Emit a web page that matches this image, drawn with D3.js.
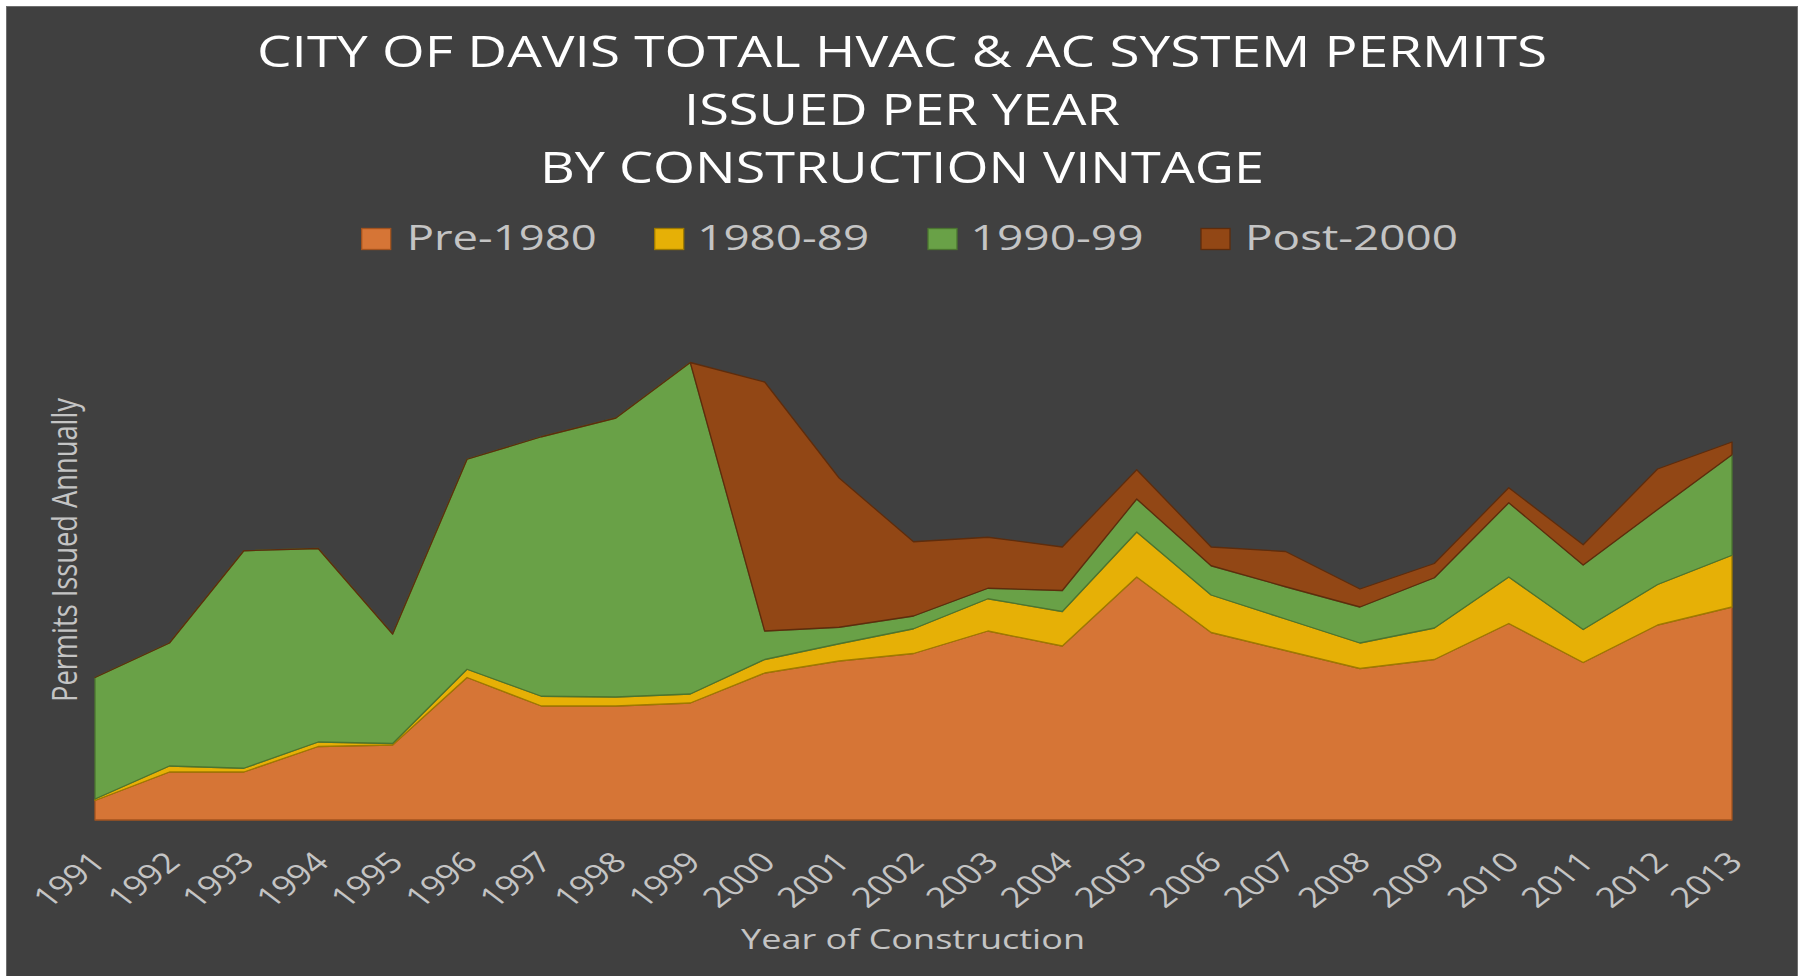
<!DOCTYPE html>
<html>
<head>
<meta charset="utf-8">
<script src="https://cdn.jsdelivr.net/npm/d3@7"></script>
<style>
  html, body { margin: 0; padding: 0; background: #ffffff; }
  svg { display: block; }
</style>
</head>
<body>
<svg id="chart" width="1801" height="976"></svg>
<script>
// ---- data (arbitrary units, no y scale shown) ----
const years = [1991,1992,1993,1994,1995,1996,1997,1998,1999,2000,2001,2002,2003,2004,2005,2006,2007,2008,2009,2010,2011,2012,2013];
const pre1980  = [13, 32, 32, 49, 50, 95, 76, 76, 78, 98, 106, 111, 126, 116, 162, 125, 113, 101, 107, 131, 105, 130, 142];
const y1980s   = [1, 4, 2.5, 3, 1, 5.5, 6.5, 6, 6, 9, 11.5, 16.5, 21.5, 23, 30, 25, 21, 17, 21, 31, 22, 27, 34.5];
const y1990s   = [81, 82, 145, 129, 73, 140, 173, 186, 221, 19, 11, 8.5, 7, 14, 22, 19.5, 21.5, 24, 33.5, 49.5, 43, 50, 67];
const post2000 = [0, 0, 0, 0, 0, 0, 0, 0, 0, 166, 99.5, 49.5, 34, 29, 19.5, 12.5, 23.5, 12, 9.5, 10, 13.5, 27, 8.5];
const seriesNames = ["Pre-1980", "1980-89", "1990-99", "Post-2000"];
const titleLines = ["CITY OF DAVIS TOTAL HVAC & AC SYSTEM PERMITS", "ISSUED PER YEAR", "BY CONSTRUCTION VINTAGE"];
const xTitle = "Year of Construction";
const yTitle = "Permits Issued Annually";

// ---- styles ----
const fills   = ["#D67536", "#E6B006", "#69A147", "#924715"];
const strokes = ["#A3531F", "#9E7A00", "#4B7530", "#5E2C0C"];
const FONT = "'Open Sans', 'DejaVu Sans', sans-serif";
const SX = 1.3; // horizontal stretch seen in the reference text

const svg = d3.select("#chart");

// frame
svg.append("rect").attr("x", 6.5).attr("y", 6.5).attr("width", 1791).attr("height", 975)
  .attr("fill", "#404040").attr("stroke", "#6e6e6e").attr("stroke-width", 1);

// table for stack
const keys = ["pre", "e80", "e90", "p00"];
const table = years.map((yr, i) => ({ year: yr, pre: pre1980[i], e80: y1980s[i], e90: y1990s[i], p00: post2000[i] }));
const stacked = d3.stack().keys(keys)(table);

const x = d3.scalePoint().domain(years).range([95, 1732]);
const y = d3.scaleLinear().domain([0, 350]).range([820, 295]);

const area = d3.area()
  .x(d => x(d.data.year))
  .y0(d => y(d[0]))
  .y1(d => y(d[1]))
  .curve(d3.curveLinear);

svg.append("g").selectAll("path").data(stacked).join("path")
  .attr("d", area)
  .attr("fill", (d, i) => fills[i])
  .attr("stroke", (d, i) => strokes[i])
  .attr("stroke-width", 1.3)
  .attr("stroke-linejoin", "round");

// x axis tick labels (rotated)
const xAxis = d3.axisBottom(x).tickSize(0).tickPadding(0);
const gx = svg.append("g").attr("transform", "translate(0,820)").call(xAxis);
gx.select(".domain").remove();
gx.selectAll(".tick text")
  .attr("font-family", FONT).attr("font-size", 28).attr("fill", "#c4c4c4")
  .attr("text-anchor", "end")
  .attr("x", null).attr("y", null).attr("dy", null)
  .attr("transform", `translate(12,44) scale(${SX},1) rotate(-45)`);

// titles
const titleBase = [66.5, 124.5, 183];
const titleLen = [1290, 436, 724];
titleLines.forEach((t, i) => {
  svg.append("text").attr("x", 902).attr("y", titleBase[i])
    .attr("text-anchor", "middle")
    .attr("font-family", FONT).attr("font-size", 43).attr("fill", "#ffffff")
    .attr("textLength", titleLen[i]).attr("lengthAdjust", "spacingAndGlyphs")
    .text(t);
});

// legend
const legSqX = [361.7, 654.7, 928, 1201];
const legTxtX = [406.7, 697.2, 970.6, 1245];
const legTxtLen = [190, 172, 173, 213];
seriesNames.forEach((name, i) => {
  svg.append("rect").attr("x", legSqX[i]).attr("y", 228.5).attr("width", 29).attr("height", 21)
    .attr("fill", fills[i]).attr("stroke", strokes[i]).attr("stroke-width", 1.3);
  svg.append("text").attr("x", legTxtX[i]).attr("y", 250)
    .attr("font-family", FONT).attr("font-size", 35).attr("fill", "#c4c4c4")
    .attr("textLength", legTxtLen[i]).attr("lengthAdjust", "spacingAndGlyphs")
    .text(name);
});

// axis titles
svg.append("text").attr("x", 913).attr("y", 948.5)
  .attr("text-anchor", "middle")
  .attr("font-family", FONT).attr("font-size", 28).attr("fill", "#c4c4c4")
  .attr("textLength", 344).attr("lengthAdjust", "spacingAndGlyphs")
  .text(xTitle);

svg.append("text")
  .attr("transform", `translate(77,550) scale(${SX},1) rotate(-90)`)
  .attr("text-anchor", "middle")
  .attr("font-family", FONT).attr("font-size", 26).attr("fill", "#c4c4c4")
  .attr("textLength", 304).attr("lengthAdjust", "spacingAndGlyphs")
  .text(yTitle);
</script>
</body>
</html>
